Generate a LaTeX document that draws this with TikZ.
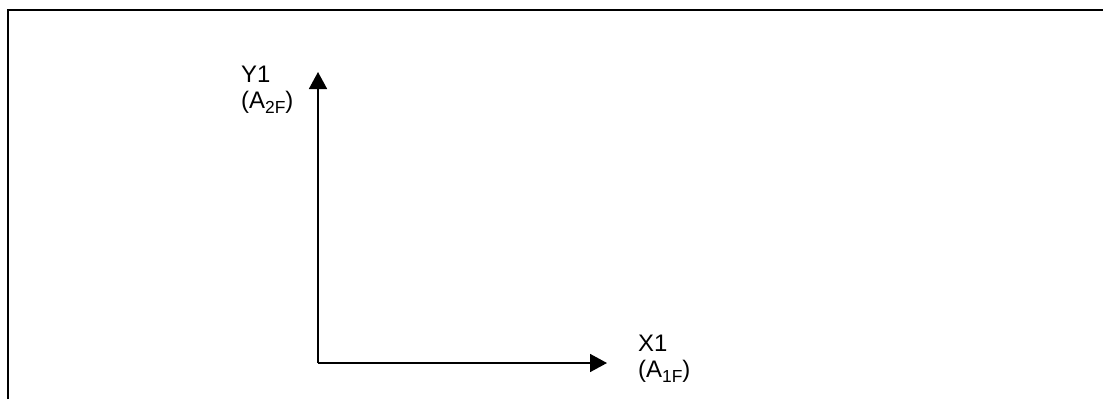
\documentclass[tikz,border=0pt]{standalone}
\usepackage{fontspec}
\setmainfont{Liberation Sans}
\usetikzlibrary{arrows.meta}
\newcommand{\lowsub}[1]{\raisebox{-0.22em}{\fontsize{17.5}{17.5}\selectfont #1}}
\begin{document}
\begin{tikzpicture}[x=1bp,y=-1bp,
  frame/.style={line width=1.4bp,black},
  axis/.style={line width=1.7bp,black,-{Triangle[length=17bp,width=18bp]}},
  lbl/.style={anchor=north west,inner sep=0pt,align=left,font=\fontsize{24}{26}\selectfont}]
\useasboundingbox (0,0) rectangle (1103,399);
\draw[frame] (8,399) -- (8,10) -- (1103,10);
\coordinate (o) at (318,363);
\coordinate (ytip) at (318,72);
\coordinate (xtip) at (607,363);
\draw[axis] (o) -- (ytip);
\draw[axis] (o) -- (xtip);
\node[lbl] (ylab) at (241,66) {Y1\\(A\lowsub{2F})};
\node[lbl] (xlab) at (638,335) {X1\\(A\lowsub{1F})};
\end{tikzpicture}
\end{document}
